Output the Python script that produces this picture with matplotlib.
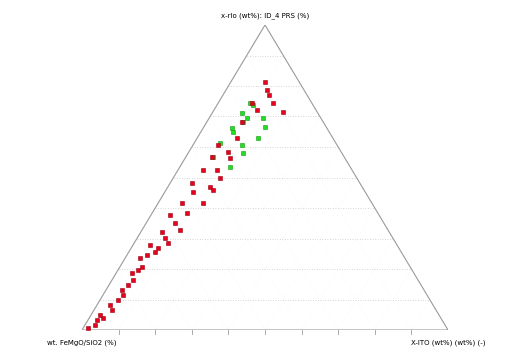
import matplotlib
matplotlib.use("Agg")
import matplotlib.pyplot as plt
import numpy as np

# ternary compositions in percent: top apex component and right apex component
# (left component is whatever is left over to 100)
red_top = [0.7, 1.6, 3.3, 3.9, 4.9, 8.2, 6.6, 9.8, 13.1, 11.5, 14.8, 18.7, 16.4,
           19.7, 23.6, 20.7, 24.6, 27.9, 25.6, 26.9, 32.1, 30.2, 28.5, 37.7,
           35.1, 32.8, 41.6, 38.4, 48.2, 45.2, 41.6, 52.5, 46.9, 45.9, 56.7,
           52.5, 49.8, 60.7, 58.4, 56.4, 63.0, 68.2, 74.4, 72.1, 81.3, 78.7,
           77.0, 74.4, 71.5]
red_right = [1.3, 2.8, 2.5, 3.8, 2.5, 3.6, 4.9, 4.9, 4.4, 5.5, 5.2, 4.3, 5.7,
             5.5, 4.0, 6.0, 5.5, 4.6, 7.1, 7.3, 5.8, 7.6, 9.3, 5.2,
             7.8, 10.4, 6.5, 9.5, 6.0, 7.7, 12.3, 6.8, 11.5, 12.9, 7.2,
             10.6, 12.8, 6.8, 10.7, 12.2, 10.8, 9.6, 9.2, 11.8, 9.4, 11.2,
             12.6, 15.0, 19.2]

green_top = [74.4, 73.8, 71.1, 68.2, 69.5, 66.6, 63.0, 66.2, 64.9, 60.7, 58.0,
             53.4, 56.7, 61.3, 69.5]
green_right = [8.7, 9.8, 8.2, 9.9, 14.7, 16.7, 16.6, 7.9, 8.9, 13.4, 15.0,
               13.7, 7.4, 7.0, 10.3]

top_label = "x-rlo (wt%): ID_4 PRS (%)"
left_label = "wt. FeMgO/SiO2 (%)"
right_label = "X-ITO (wt%) (wt%) (-)"


def to_xy(top, right):
    t = np.array(top) / 100.0
    r = np.array(right) / 100.0
    return r + t / 2.0, t


fig = plt.figure(figsize=(5.28, 3.58), dpi=100)
ax = fig.add_axes([82 / 528, 28 / 358, 366 / 528, 305 / 358])
ax.set_xlim(0, 1)
ax.set_ylim(0, 1)
ax.axis("off")

# grid lines parallel to the base
for g in np.arange(0.1, 1.0, 0.1):
    ax.plot([g / 2, 1 - g / 2], [g, g], color="#c8c8c8", lw=0.6, ls=(0, (1, 2)))
# faint lines parallel to the other two sides
for g in np.arange(0.1, 1.0, 0.1):
    ax.plot([g, (1 + g) / 2], [0, 1 - g], color="#eeeeee", lw=0.4, ls=(0, (1, 3)))
    ax.plot([1 - g, (1 - g) / 2], [0, 1 - g], color="#eeeeee", lw=0.4, ls=(0, (1, 3)))

# triangle frame
ax.plot([0, 1, 0.5, 0], [0, 0, 1, 0], color="#9a9a9a", lw=0.8)

# ticks on base
for g in np.arange(0.1, 1.0, 0.1):
    ax.plot([g, g], [0, -0.012], color="#9a9a9a", lw=0.6, clip_on=False)

xr, yr = to_xy(red_top, red_right)
xg, yg = to_xy(green_top, green_right)
ax.scatter(xg, yg, s=9, marker="s", color="#22dd22", edgecolor="#119911",
           linewidth=0.4, zorder=3)
ax.scatter(xr, yr, s=9, marker="s", color="#e8001c", edgecolor="#990010",
           linewidth=0.4, zorder=4)

ax.text(0.5, 1.02, top_label, ha="center", va="bottom", fontsize=5)
ax.text(0.0, -0.03, left_label, ha="center", va="top", fontsize=5)
ax.text(1.0, -0.03, right_label, ha="center", va="top", fontsize=5)

plt.savefig("out.png", dpi=100)
